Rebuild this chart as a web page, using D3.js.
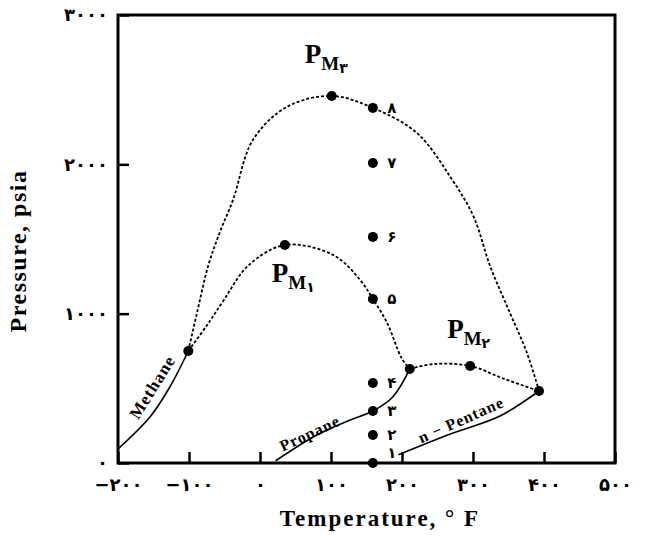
<!DOCTYPE html>
<html>
<head>
<meta charset="utf-8">
<script src="https://cdn.jsdelivr.net/npm/d3@7"></script>
<style>
  body { margin: 0; background: #fff; }
  svg { display: block; }
  .serif { font-family: "Liberation Serif", "Times New Roman", serif; font-weight: bold; }
  .digits { font-family: "DejaVu Sans", sans-serif; font-weight: bold; }
</style>
</head>
<body>
<svg id="chart" width="647" height="536"></svg>
<script>
// --- Data (temperature °F, pressure psia) ---
const xTicks = [-200, -100, 0, 100, 200, 300, 400, 500];
const yTicks = [0, 1000, 2000, 3000];

// vapour pressure curves (solid)
const methaneVP = [[-200, 94], [-155, 308], [-127, 509], [-101, 750]];
const propaneVP = [[22, 15], [80, 188], [127, 288], [159, 348], [187, 442], [211, 630]];
const pentaneVP = [[195, 55], [268, 194], [338, 315], [393, 482]];

// critical loci of the binaries (dotted)
const locusMethanePropane = [[-101, 750], [-75, 920], [-50, 1098], [-17, 1320], [35, 1460],
  [103, 1393], [141, 1226], [159, 1098], [179, 938], [200, 697], [211, 630]];
const locusMethanePentane = [[-101, 750], [-89, 1000], [-73, 1320], [-57, 1540], [-38, 1762],
  [-10, 2163], [38, 2385], [101, 2458], [159, 2378], [221, 2210], [268, 1916],
  [301, 1648], [324, 1320], [352, 1005], [376, 737], [393, 482]];
const locusPropanePentane = [[211, 630], [245, 663], [296, 650], [344, 563], [393, 482]];

// critical points of pure components
const criticalPoints = [[-101, 750], [211, 630], [393, 482]];
// maximum pressure points
const pmPoints = [[35, 1460], [296, 650], [101, 2458]];
const pmNames = ["۱", "۲", "۳"];

// numbered points at constant temperature
const numberedT = 159;
const numberedP = [0, 188, 348, 536, 1098, 1514, 2009, 2378];
const numberedNames = ["۱", "۲", "۳", "۴", "۵", "۶", "۷", "۸"];

// --- Setup ---
const svg = d3.select("#chart");
const margin = { left: 118, top: 15, right: 32, bottom: 73 };
const width = 647 - margin.left - margin.right;
const height = 536 - margin.top - margin.bottom;

const x = d3.scaleLinear().domain([-200, 500]).range([0, width]);
const y = d3.scaleLinear().domain([0, 3000]).range([height, 0]);

const g = svg.append("g").attr("transform", `translate(${margin.left},${margin.top})`);

const toFa = n => String(n).replace(/\d/g, d => "۰۱۲۳۴۵۶۷۸۹"[d]).replace("-", "−");

// --- Axes ---
const xAxis = g.append("g")
  .attr("transform", `translate(0,${height})`)
  .call(d3.axisBottom(x).tickValues(xTicks).tickFormat(toFa).tickSize(-11).tickPadding(15));
const yAxis = g.append("g")
  .call(d3.axisLeft(y).tickValues(yTicks).tickFormat(toFa).tickSize(-11).tickPadding(10));

[xAxis, yAxis].forEach(a => {
  a.select(".domain").remove();
  a.selectAll(".tick line").attr("stroke", "#000").attr("stroke-width", 2.5);
  a.selectAll(".tick text")
    .attr("class", "digits")
    .attr("font-size", 18)
    .attr("letter-spacing", 3)
    .attr("fill", "#000");
});

// frame
g.append("rect")
  .attr("width", width).attr("height", height)
  .attr("fill", "none").attr("stroke", "#000").attr("stroke-width", 3);

// --- Curves ---
const line = d3.line()
  .x(d => x(d[0]))
  .y(d => y(d[1]))
  .curve(d3.curveCatmullRom.alpha(0.5));

[methaneVP, propaneVP, pentaneVP].forEach(c => {
  g.append("path").datum(c)
    .attr("d", line)
    .attr("fill", "none").attr("stroke", "#000").attr("stroke-width", 1.6);
});

[locusMethanePropane, locusMethanePentane, locusPropanePentane].forEach(c => {
  g.append("path").datum(c)
    .attr("d", line)
    .attr("fill", "none").attr("stroke", "#000").attr("stroke-width", 1.8)
    .attr("stroke-dasharray", "3,2");
});

// --- Points ---
g.selectAll(".cp").data(criticalPoints.concat(pmPoints)).enter().append("circle")
  .attr("cx", d => x(d[0])).attr("cy", d => y(d[1])).attr("r", 5).attr("fill", "#000");

g.selectAll(".num").data(numberedP).enter().append("circle")
  .attr("cx", x(numberedT)).attr("cy", d => y(d)).attr("r", 5).attr("fill", "#000");

g.selectAll(".numlab").data(numberedP).enter().append("text")
  .attr("class", "digits")
  .attr("x", x(numberedT) + 19)
  .attr("y", (d, i) => y(d) + (i === 0 ? -10 : 0))
  .attr("dy", "0.35em")
  .attr("text-anchor", "middle")
  .attr("font-size", 15)
  .text((d, i) => numberedNames[i]);

// --- P_M labels ---
const pmOffsets = [[-13, 37], [-23, -28], [-27, -33]];
pmPoints.forEach((p, i) => {
  const t = g.append("text")
    .attr("x", x(p[0]) + pmOffsets[i][0])
    .attr("y", y(p[1]) + pmOffsets[i][1]);
  t.append("tspan").attr("class", "serif").attr("font-size", 27).text("P");
  t.append("tspan").attr("class", "serif").attr("font-size", 19).attr("dy", 7).text("M");
  t.append("tspan").attr("class", "digits").attr("font-size", 14).attr("dy", 3).text(pmNames[i]);
});

// --- Curve labels ---
const curveLabels = [
  { text: "Methane", at: [-152, 509], angle: -58, size: 17 },
  { text: "Propane", at: [70, 200], angle: -25, size: 16 },
  { text: "n − Pentane", at: [283, 290], angle: -24, size: 16 }
];
curveLabels.forEach(c => {
  g.append("text")
    .attr("class", "serif")
    .attr("font-size", c.size)
    .attr("letter-spacing", 1)
    .attr("text-anchor", "middle")
    .attr("transform", `translate(${x(c.at[0])},${y(c.at[1])}) rotate(${c.angle})`)
    .attr("dy", "0.35em")
    .text(c.text);
});

// --- Axis titles ---
svg.append("text")
  .attr("class", "serif")
  .attr("font-size", 23)
  .attr("text-anchor", "middle")
  .attr("x", 380).attr("y", 526)
  .attr("letter-spacing", 2)
  .text("Temperature, ° F");

svg.append("text")
  .attr("class", "serif")
  .attr("font-size", 24)
  .attr("text-anchor", "middle")
  .attr("letter-spacing", 1.5)
  .attr("transform", "translate(26,251) rotate(-90)")
  .text("Pressure, psia");
</script>
</body>
</html>
